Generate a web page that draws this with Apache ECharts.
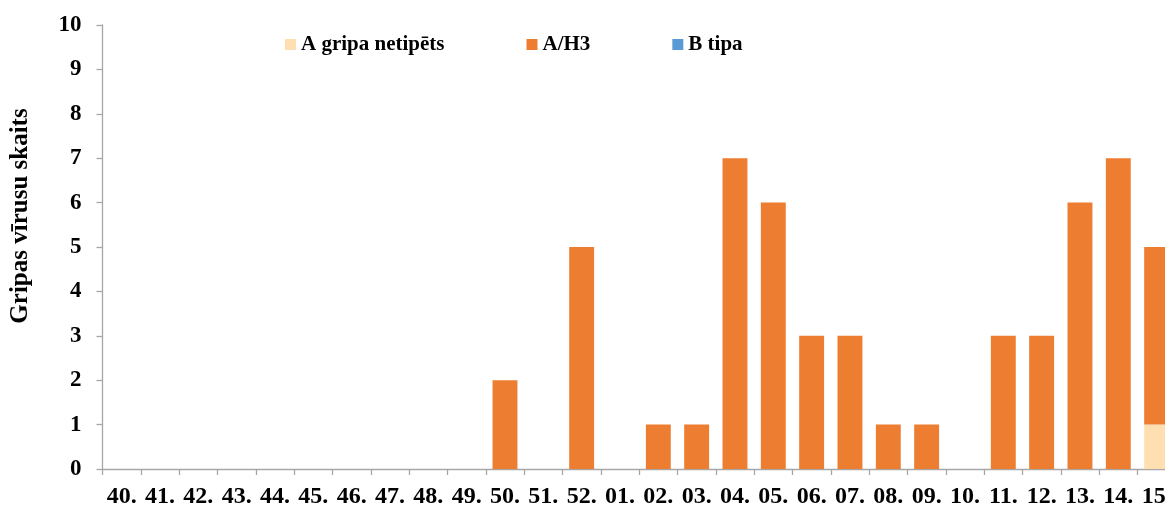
<!DOCTYPE html>
<html>
<head>
<meta charset="utf-8">
<script src="https://cdn.jsdelivr.net/npm/echarts@6/dist/echarts.min.js"></script>
<style>
  html, body { margin: 0; padding: 0; background: #fff; }
  #chart { width: 1165px; height: 507px; }
</style>
</head>
<body>
<div id="chart"></div>
<script>
// Weeks of the season (40th week to 15th week of the next year)
const weeks = ['40.', '41.', '42.', '43.', '44.', '45.', '46.', '47.', '48.', '49.', '50.', '51.', '52.',
               '01.', '02.', '03.', '04.', '05.', '06.', '07.', '08.', '09.', '10.', '11.', '12.', '13.', '14.', '15.'];

// Number of influenza viruses per week, by type
const aUntyped = [0, 0, 0, 0, 0, 0, 0, 0, 0, 0, 0, 0, 0,
                  0, 0, 0, 0, 0, 0, 0, 0, 0, 0, 0, 0, 0, 0, 1];
const aH3      = [0, 0, 0, 0, 0, 0, 0, 0, 0, 0, 2, 0, 5,
                  0, 1, 1, 7, 6, 3, 3, 1, 1, 0, 3, 3, 6, 7, 4];
const bType    = [0, 0, 0, 0, 0, 0, 0, 0, 0, 0, 0, 0, 0,
                  0, 0, 0, 0, 0, 0, 0, 0, 0, 0, 0, 0, 0, 0, 0];

const yTicks = { min: 0, max: 10, interval: 1 };

const seriesNames = ['A gripa netipēts', 'A/H3', 'B tipa'];
const seriesColors = ['#FEDFB2', '#ED7D31', '#5B9BD5'];

const FONT = '"Liberation Serif", "Times New Roman", serif';
const AXIS_COLOR = '#A6A6A6';

const chart = echarts.init(document.getElementById('chart'), null, { renderer: 'canvas' });

const seriesData = [aUntyped, aH3, bType];

chart.setOption({
  animation: false,
  backgroundColor: '#ffffff',
  grid: {
    left: 102.5,
    top: 25,
    bottom: 38,
    right: -10.8,
    outerBoundsMode: 'none',
    containLabel: false
  },
  legend: {
    top: 34,
    left: 285,
    padding: 0,
    itemWidth: 11,
    itemHeight: 11,
    itemGap: 82,
    icon: 'rect',
    textStyle: {
      fontFamily: FONT,
      fontWeight: 'bold',
      fontSize: 21,
      color: '#000'
    },
    data: seriesNames
  },
  graphic: [{
    type: 'text',
    x: 21,
    y: 216,
    rotation: Math.PI / 2,
    style: {
      text: 'Gripas vīrusu skaits',
      fontFamily: FONT,
      fontWeight: 'bold',
      fontSize: 25,
      fill: '#000',
      align: 'center',
      verticalAlign: 'middle'
    }
  }],
  xAxis: {
    type: 'category',
    data: weeks,
    boundaryGap: true,
    axisLine: { show: true, lineStyle: { color: AXIS_COLOR, width: 1.3 } },
    axisTick: { show: true, alignWithLabel: false, length: 6, lineStyle: { color: AXIS_COLOR, width: 1.3 } },
    axisLabel: {
      interval: 0,
      margin: 16,
      fontFamily: FONT,
      fontWeight: 'bold',
      fontSize: 24,
      color: '#000'
    },
    splitLine: { show: false }
  },
  yAxis: {
    type: 'value',
    min: yTicks.min,
    max: yTicks.max,
    interval: yTicks.interval,
    axisLine: { show: true, lineStyle: { color: AXIS_COLOR, width: 1.3 } },
    axisTick: { show: true, length: 6, lineStyle: { color: AXIS_COLOR, width: 1.3 } },
    axisLabel: {
      margin: 21,
      fontFamily: FONT,
      fontWeight: 'bold',
      fontSize: 23,
      color: '#000'
    },
    splitLine: { show: false }
  },
  series: seriesNames.map((name, i) => ({
    name: name,
    type: 'bar',
    stack: 'viruses',
    barCategoryGap: '35%',
    itemStyle: { color: seriesColors[i] },
    emphasis: { disabled: true },
    data: seriesData[i]
  }))
});
</script>
</body>
</html>
